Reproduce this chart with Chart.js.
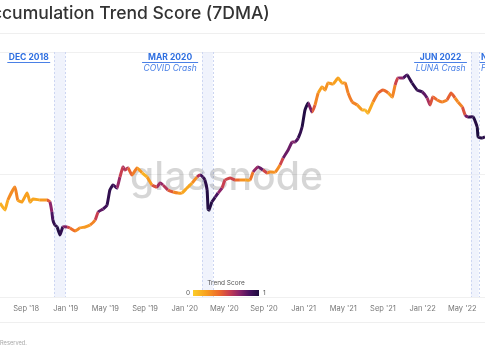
<!DOCTYPE html>
<html><head><meta charset="utf-8">
<script src="https://cdn.jsdelivr.net/npm/chart.js@4.4.0/dist/chart.umd.min.js"></script>
<style>
html,body{margin:0;padding:0;background:#fff;width:485px;height:360px;overflow:hidden;}
#wrap{position:relative;width:485px;height:360px;}
canvas{position:absolute;left:0;top:0;}
</style></head><body>
<div id="wrap"><canvas id="c" width="485" height="360"></canvas></div>
<script>
const dates = ['2018-06-12','2018-06-27','2018-07-06','2018-07-28','2018-08-06','2018-08-19','2018-09-04','2018-09-13','2018-09-22','2018-10-13','2018-11-04','2018-11-13','2018-11-19','2018-11-22','2018-11-28','2018-12-05','2018-12-14','2018-12-23','2019-01-05','2019-01-14','2019-01-30','2019-02-13','2019-02-28','2019-03-15','2019-03-31','2019-04-09','2019-04-24','2019-05-06','2019-05-15','2019-05-25','2019-06-06','2019-06-15','2019-06-24','2019-06-30','2019-07-10','2019-07-22','2019-08-07','2019-08-23','2019-09-07','2019-09-22','2019-10-07','2019-10-17','2019-10-26','2019-11-10','2019-11-26','2019-12-11','2019-12-23','2020-01-08','2020-01-24','2020-02-08','2020-02-17','2020-02-25','2020-03-02','2020-03-09','2020-03-12','2020-03-15','2020-03-24','2020-04-03','2020-04-12','2020-04-24','2020-05-03','2020-05-19','2020-06-03','2020-06-18','2020-07-04','2020-07-19','2020-07-29','2020-08-13','2020-08-29','2020-09-10','2020-09-19','2020-10-05','2020-10-20','2020-10-30','2020-11-14','2020-11-26','2020-12-05','2020-12-15','2020-12-27','2021-01-05','2021-01-15','2021-01-27','2021-02-05','2021-02-14','2021-02-25','2021-03-06','2021-03-15','2021-03-31','2021-04-15','2021-04-27','2021-05-07','2021-05-16','2021-05-29','2021-06-13','2021-06-28','2021-07-07','2021-07-16','2021-08-01','2021-08-17','2021-09-01','2021-09-17','2021-09-29','2021-10-08','2021-10-17','2021-11-02','2021-11-14','2021-11-29','2021-12-15','2021-12-31','2022-01-15','2022-01-24','2022-02-02','2022-02-14','2022-02-28','2022-03-15','2022-03-28','2022-04-09','2022-04-18','2022-05-01','2022-05-10','2022-05-19','2022-06-04','2022-06-16','2022-06-19','2022-07-01','2022-07-10'];
const price = [5850,5130,6190,7910,6190,5970,7060,5970,6310,6190,6190,5970,4940,4250,3870,3730,3210,3730,3730,3660,3460,3660,3730,3870,4250,4940,5230,5640,7470,8210,7760,9540,11510,10880,11300,9910,11300,10290,9540,8210,7910,8520,8210,7470,7200,7060,7060,7760,8520,9540,9910,9540,9020,7470,5230,5130,5970,6520,7060,7760,9020,9360,9020,9020,9020,9020,10480,11510,10880,10290,10480,10480,11960,13630,15850,18420,18420,19860,24420,33610,38350,32370,36930,46270,51800,48950,55840,54810,61360,55840,55840,46270,39070,36930,33610,33610,31770,39070,46270,48950,46270,42930,53780,61360,61360,64910,55840,48950,47150,42120,36930,42930,40570,39070,40570,46270,42120,39070,35560,30600,29480,29480,24420,20240,19860,20240];
const trendScore = [0.15,0.1,0.2,0.35,0.25,0.15,0.25,0.15,0.2,0.15,0.3,0.6,0.8,0.9,0.95,0.95,1.0,0.85,0.6,0.45,0.3,0.25,0.2,0.25,0.35,0.75,0.85,0.9,0.95,0.9,0.85,0.5,0.6,0.65,0.5,0.35,0.3,0.15,0.1,0.35,0.6,0.7,0.65,0.55,0.35,0.25,0.2,0.15,0.2,0.35,0.85,0.9,0.95,0.95,1.0,1.0,0.95,0.9,0.8,0.6,0.5,0.55,0.5,0.3,0.2,0.2,0.5,0.85,0.7,0.35,0.3,0.2,0.35,0.7,0.85,0.7,0.75,0.9,0.95,1.0,0.95,0.55,0.35,0.25,0.15,0.3,0.2,0.25,0.15,0.2,0.25,0.35,0.3,0.3,0.15,0.1,0.1,0.25,0.4,0.45,0.3,0.15,0.45,0.6,0.8,0.9,0.95,0.95,0.85,0.75,0.5,0.45,0.35,0.3,0.3,0.55,0.3,0.25,0.35,0.6,0.9,0.95,1.0,1.0,0.95,0.95];
const xTickDates = ['2018-09-01','2019-01-01','2019-05-01','2019-09-01','2020-01-01','2020-05-01','2020-09-01','2021-01-01','2021-05-01','2021-09-01','2022-01-01','2022-05-01'];
const xTickLabels = ["Sep '18","Jan '19","May '19","Sep '19","Jan '20","May '20","Sep '20","Jan '21","May '21","Sep '21","Jan '22","May '22"];
const yGridValues = [1000,10000,100000];
const eventStarts = ['2018-11-26','2020-02-23','2022-05-28','2022-11-24'];
const eventEnds = ['2018-12-31','2020-03-27','2022-06-21','2022-12-10'];
const eventTitles = ['DEC 2018','MAR 2020','JUN 2022','NOV 2022'];
const eventSubtitles = ['','COVID Crash','LUNA Crash','FTX Crash'];
const xRange = ['2018-06-12','2022-07-10'];

function toT(s){const [y,m,d]=s.split('-').map(Number);const dim=new Date(y,m,0).getDate();return (y-2018)*12+(m-1)+(d-1)/dim;}
const stops=[[0,[251,205,40]],[0.2,[248,160,30]],[0.4,[236,104,44]],[0.55,[200,62,80]],[0.7,[140,36,106]],[0.85,[72,18,96]],[1,[28,12,62]]];
function cmap(v){v=Math.max(0,Math.min(1,v));for(let i=1;i<stops.length;i++){if(v<=stops[i][0]){const a=stops[i-1],b=stops[i];const f=(v-a[0])/(b[0]-a[0]);const c=a[1].map((x,k)=>Math.round(x+(b[1][k]-x)*f));return `rgb(${c[0]},${c[1]},${c[2]})`;}}return 'rgb(28,12,62)';}

const FONT='Inter, "Noto Sans", sans-serif';
Chart.defaults.font.family=FONT;

function fitFont(c,weight,text,target){c.font=weight+' 20px '+FONT;const w=c.measureText(text).width;return 20*target/w;}

const deco={
  id:'deco',
  beforeDraw(chart){
    const c=chart.ctx;c.save();
    c.fillStyle='#fff';c.fillRect(0,0,chart.width,chart.height);
    c.strokeStyle='#efefef';c.lineWidth=1;
    c.beginPath();c.moveTo(0,33.5);c.lineTo(485,33.5);c.moveTo(0,322.5);c.lineTo(485,322.5);c.stroke();
    // title (the start of it runs off the left edge)
    const fs=fitFont(c,'500','cumulation Trend Score (7DMA)',268);
    c.fillStyle='#333';c.font='500 '+fs.toFixed(2)+'px '+FONT;c.textBaseline='alphabetic';
    c.textAlign='right';c.fillText('Bitcoin: Ac',2,19);
    c.textAlign='left';c.fillText('cumulation Trend Score (7DMA)',2,19);
    // footer
    const ff=fitFont(c,'400','Reserved.',27);
    c.fillStyle='#a8a8a8';c.font=ff.toFixed(2)+'px '+FONT;c.textBaseline='middle';
    c.textAlign='right';c.fillText('© 2022 Glassnode. All Rights ',0,343);
    c.textAlign='left';c.fillText('Reserved.',0,343);
    c.restore();
  },
  beforeDatasetsDraw(chart){
    const c=chart.ctx,a=chart.chartArea,xs=chart.scales.x;c.save();
    for(let i=0;i<eventStarts.length;i++){
      const x0=xs.getPixelForValue(toT(eventStarts[i])),x1=xs.getPixelForValue(toT(eventEnds[i]));
      c.fillStyle='rgba(228,233,250,0.55)';c.fillRect(x0,a.top,x1-x0,a.bottom-a.top);
      c.strokeStyle='#cdd6f2';c.setLineDash([2,2]);c.lineWidth=1;
      c.beginPath();c.moveTo(Math.round(x0)+0.5,a.top);c.lineTo(Math.round(x0)+0.5,a.bottom);c.moveTo(Math.round(x1)+0.5,a.top);c.lineTo(Math.round(x1)+0.5,a.bottom);c.stroke();
    }
    c.setLineDash([]);
    const fs=fitFont(c,'500','glassnode',193);
    c.fillStyle='rgba(0,0,0,0.16)';c.font='500 '+fs.toFixed(2)+'px '+FONT;c.textAlign='left';c.textBaseline='alphabetic';
    c.fillText('glassnode',130,190);
    c.restore();
  },
  afterDraw(chart){
    const c=chart.ctx,a=chart.chartArea,xs=chart.scales.x;c.save();
    for(let i=0;i<eventStarts.length;i++){
      const x0=xs.getPixelForValue(toT(eventStarts[i]));
      c.font='bold 8.5px '+FONT;const w1=c.measureText(eventTitles[i]).width;
      c.font='italic 8.5px '+FONT;const w2=eventSubtitles[i]?c.measureText(eventSubtitles[i]).width:0;
      const w=Math.max(w1,w2)+3;const right=x0-4;const cx=right-w/2;
      c.textAlign='center';c.textBaseline='middle';
      c.fillStyle='#2f6fe0';c.font='bold 8.5px '+FONT;c.fillText(eventTitles[i],cx,57);
      c.strokeStyle='#4a80e6';c.lineWidth=1;c.beginPath();c.moveTo(right-w,62.5);c.lineTo(right,62.5);c.stroke();
      if(eventSubtitles[i]){c.fillStyle='#4a80e6';c.font='italic 8.5px '+FONT;c.fillText(eventSubtitles[i],cx,68);}
    }
    // colour bar legend
    const bx=193,by=290,bw=66,bh=6;
    const g=c.createLinearGradient(bx,0,bx+bw,0);
    stops.forEach(s=>g.addColorStop(s[0],`rgb(${s[1].join(',')})`));
    c.fillStyle=g;c.fillRect(bx,by,bw,bh);
    c.fillStyle='#555';c.font='6.5px '+FONT;c.textBaseline='middle';
    c.textAlign='center';c.fillText('Trend Score',226,283);
    c.textAlign='right';c.fillText('0',190,293);
    c.textAlign='left';c.fillText('1',263,293);
    c.restore();
  }
};

const pts=dates.map((d,i)=>({x:toT(d),y:price[i]}));
new Chart(document.getElementById('c'),{
  type:'line',
  data:{datasets:[{data:pts,borderWidth:3,pointRadius:0,tension:0.15,
    segment:{borderColor:ctx=>cmap((trendScore[ctx.p0DataIndex]+trendScore[ctx.p1DataIndex])/2)},
    borderColor:'#f9a51e'}]},
  options:{
    responsive:false,animation:false,
    layout:{padding:{top:52,left:0,right:0,bottom:0}},
    plugins:{legend:{display:false},tooltip:{enabled:false}},
    scales:{
      x:{type:'linear',min:toT(xRange[0]),max:toT(xRange[1]),
        grid:{display:false,drawTicks:false},border:{display:false},
        afterBuildTicks:s=>{s.ticks=xTickDates.map(d=>({value:toT(d)}));},
        afterFit:s=>{s.height=63;},
        ticks:{autoSkip:false,maxRotation:0,padding:7,color:'#777',font:{size:7.5},
          callback:(v,i)=>xTickLabels[i]}},
      y:{type:'logarithmic',min:1000,max:100000,
        afterBuildTicks:s=>{s.ticks=yGridValues.map(v=>({value:v}));},
        afterFit:s=>{s.width=0;},
        grid:{color:'#f0f0f0',drawTicks:false},border:{display:false},
        ticks:{display:false}}
    }
  },
  plugins:[deco]
});
</script>
</body></html>
